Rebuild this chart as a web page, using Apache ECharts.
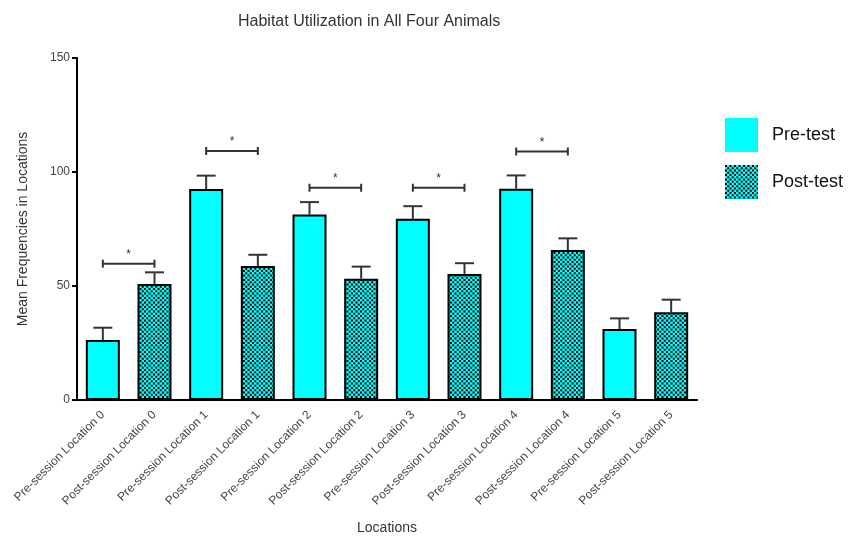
<!DOCTYPE html>
<html>
<head>
<meta charset="utf-8">
<script src="https://cdn.jsdelivr.net/npm/echarts@6/dist/echarts.min.js"></script>
<style>
html,body{margin:0;padding:0;background:#fff;}
#chart{width:849px;height:536px;}
</style>
</head>
<body>
<div id="chart"></div>
<script>
// ---- data ----
var categories = [
  'Pre-session Location 0','Post-session Location 0',
  'Pre-session Location 1','Post-session Location 1',
  'Pre-session Location 2','Post-session Location 2',
  'Pre-session Location 3','Post-session Location 3',
  'Pre-session Location 4','Post-session Location 4',
  'Pre-session Location 5','Post-session Location 5'
];
var preMeans  = [26.3, 92.5, 81.4, 79.5, 92.7, 31.1];
var preErrors = [5.4, 5.9, 5.4, 5.5, 5.8, 4.7];
var postMeans  = [50.9, 58.8, 53.2, 55.3, 65.8, 38.5];
var postErrors = [5.1, 4.9, 5.3, 4.7, 5.1, 5.5];
// significance brackets: [fromCategoryIndex, toCategoryIndex, height]
var brackets = [
  [0, 1, 59.8],
  [2, 3, 109.2],
  [4, 5, 93.1],
  [6, 7, 93.1],
  [8, 9, 109.0]
];
var yTicks = [0, 50, 100, 150];

// ---- build series data ----
var preData = [], postData = [], errData = [];
for (var i = 0; i < preMeans.length; i++) {
  preData.push(preMeans[i]); preData.push('-');
  postData.push('-'); postData.push(postMeans[i]);
  errData.push([2*i, preMeans[i], preMeans[i] + preErrors[i]]);
  errData.push([2*i+1, postMeans[i], postMeans[i] + postErrors[i]]);
}

// checker pattern (period 4.5px)
var pc = document.createElement('canvas');
pc.width = 9; pc.height = 9;
var ctx = pc.getContext('2d');
ctx.fillStyle = '#00ffff'; ctx.fillRect(0,0,9,9);
ctx.fillStyle = '#000000';
[[0,0],[4.5,0],[2.25,2.25],[6.75,2.25],[0,4.5],[4.5,4.5],[2.25,6.75],[6.75,6.75]].forEach(function(p){
  ctx.fillRect(p[0], p[1], 2, 2);
});
var checker = { image: pc, repeat: 'repeat' };

var FONT = '"Liberation Sans", Arial, Helvetica, sans-serif';
var chart = echarts.init(document.getElementById('chart'));
chart.setOption({
  animation: false,
  backgroundColor: '#ffffff',
  title: {
    text: 'Habitat Utilization in All Four Animals',
    left: 233, top: 9,
    textStyle: { fontFamily: FONT, fontSize: 16, fontWeight: 'normal', color: '#333' }
  },
  legend: {
    orient: 'vertical', left: 720, top: 113,
    itemWidth: 33, itemHeight: 34, itemGap: 13,
    icon: 'rect',
    textStyle: { fontFamily: FONT, fontSize: 18, color: '#111', padding: [0,0,0,9] },
    itemStyle: { borderWidth: 0 },
    data: ['Pre-test', 'Post-test']
  },
  grid: { left: 77, right: 152, top: 58, bottom: 136, containLabel: false, outerBoundsMode: 'none' },
  xAxis: {
    type: 'category', data: categories,
    name: 'Locations', nameLocation: 'middle', nameGap: 121,
    nameTextStyle: { fontFamily: FONT, fontSize: 14, color: '#333' },
    axisLine: { lineStyle: { color: '#000', width: 2 } },
    axisTick: { alignWithLabel: true, length: 5, lineStyle: { color: '#000', width: 2 } },
    axisLabel: { rotate: 45, interval: 0, margin: 13, fontFamily: FONT, fontSize: 12, color: '#444' }
  },
  yAxis: {
    type: 'value', min: yTicks[0], max: yTicks[yTicks.length-1], interval: 50,
    name: 'Mean Frequencies in Locations', nameLocation: 'middle', nameGap: 47,
    nameTextStyle: { fontFamily: FONT, fontSize: 14, color: '#333' },
    axisLine: { show: true, lineStyle: { color: '#000', width: 2 } },
    axisTick: { show: true, length: 5, lineStyle: { color: '#000', width: 2 } },
    axisLabel: { margin: 7, fontFamily: FONT, fontSize: 12, color: '#444' },
    splitLine: { show: false }
  },
  series: [
    {
      name: 'Pre-test', type: 'bar', data: preData, barWidth: 34, barGap: '-100%',
      itemStyle: { color: '#00ffff', borderColor: '#000', borderWidth: 2 }
    },
    {
      name: 'Post-test', type: 'bar', data: postData, barWidth: 34, barGap: '-100%',
      itemStyle: { color: checker, borderColor: '#000', borderWidth: 2 }
    },
    {
      type: 'custom', name: 'err', data: errData, z: 1,
      renderItem: function (params, api) {
        var x = api.value(0);
        var p0 = api.coord([x, api.value(1)]);
        var p1 = api.coord([x, api.value(2)]);
        var hw = 9.5;
        return {
          type: 'group',
          children: [
            { type: 'line', shape: { x1: p0[0], y1: p0[1], x2: p1[0], y2: p1[1] }, style: { stroke: '#333', lineWidth: 2 } },
            { type: 'line', shape: { x1: p1[0]-hw, y1: p1[1], x2: p1[0]+hw, y2: p1[1] }, style: { stroke: '#333', lineWidth: 2 } }
          ]
        };
      }
    },
    {
      type: 'custom', name: 'sig', data: brackets,
      renderItem: function (params, api) {
        var a = api.coord([api.value(0), api.value(2)]);
        var b = api.coord([api.value(1), api.value(2)]);
        return {
          type: 'group',
          children: [
            { type: 'line', shape: { x1: a[0], y1: a[1], x2: b[0], y2: b[1] }, style: { stroke: '#333', lineWidth: 2 } },
            { type: 'line', shape: { x1: a[0], y1: a[1]-4, x2: a[0], y2: a[1]+4 }, style: { stroke: '#333', lineWidth: 2 } },
            { type: 'line', shape: { x1: b[0], y1: b[1]-4, x2: b[0], y2: b[1]+4 }, style: { stroke: '#333', lineWidth: 2 } },
            { type: 'text', style: { text: '*', x: (a[0]+b[0])/2, y: a[1]-3, textAlign: 'center', textVerticalAlign: 'bottom', font: '12px ' + FONT, fill: '#333' } }
          ]
        };
      }
    }
  ]
});
</script>
</body>
</html>
